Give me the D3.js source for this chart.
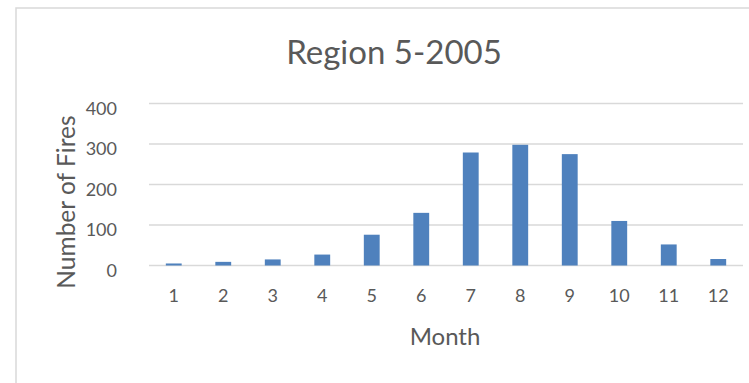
<!DOCTYPE html>
<meta charset="utf-8">
<style>
body { margin: 0; background: #fff; }
text { font-family: Lato, "Open Sans", sans-serif; fill: #595959; }
.grid line { stroke: #d9d9d9; stroke-width: 1.5px; }
.bar { fill: #4f81bd; }
</style>
<svg width="749" height="383"></svg>
<script src="https://cdn.jsdelivr.net/npm/d3@7/dist/d3.min.js"></script>
<script>

var months = ["1", "2", "3", "4", "5", "6", "7", "8", "9", "10", "11", "12"];
var fires = [5, 9, 15, 27, 76, 130, 279, 298, 275, 110, 52, 16];
var yTicks = [0, 100, 200, 300, 400];

var svg = d3.select("svg"),
    margin = {top: 103.5, right: 6, bottom: 117.5, left: 149},
    width = svg.attr("width") - margin.left - margin.right,
    height = svg.attr("height") - margin.top - margin.bottom;

// chart border (right/bottom edges run off the picture)
svg.append("rect")
    .attr("x", 16).attr("y", 8)
    .attr("width", 760).attr("height", 400)
    .attr("fill", "none")
    .attr("stroke", "#d9d9d9")
    .attr("stroke-width", 1.5);

var g = svg.append("g").attr("transform", "translate(" + margin.left + "," + margin.top + ")");

var x = d3.scaleBand().domain(months).range([0, width]).paddingInner(0.68).paddingOuter(0.34),
    y = d3.scaleLinear().domain([0, 400]).range([height, 0]);

g.append("g")
    .attr("class", "grid")
    .selectAll("line")
    .data(yTicks)
    .enter().append("line")
      .attr("x1", 0).attr("x2", width)
      .attr("y1", function(d) { return y(d); })
      .attr("y2", function(d) { return y(d); });

var yAxis = g.append("g")
    .call(d3.axisLeft(y).tickValues(yTicks).tickSize(0).tickPadding(32));
yAxis.select(".domain").remove();
yAxis.selectAll("text")
    .attr("dy", "0.6em")
    .style("font-size", "18px")
    .style("fill", "#595959")
    .style("font-family", null);

var xAxis = g.append("g")
    .attr("transform", "translate(0," + height + ")")
    .call(d3.axisBottom(x).tickSize(0).tickPadding(24));
xAxis.select(".domain").remove();
xAxis.selectAll("text")
    .style("font-size", "18px")
    .style("fill", "#595959")
    .style("font-family", null);

g.selectAll(".bar")
    .data(fires)
    .enter().append("rect")
      .attr("class", "bar")
      .attr("x", function(d, i) { return x(months[i]); })
      .attr("width", x.bandwidth())
      .attr("y", function(d) { return y(d); })
      .attr("height", function(d) { return height - y(d); });

svg.append("text")
    .attr("x", 394).attr("y", 64)
    .attr("text-anchor", "middle")
    .style("font-size", "33px")
    .text("Region 5-2005");

svg.append("text")
    .attr("x", 445).attr("y", 345)
    .attr("text-anchor", "middle")
    .style("font-size", "24px")
    .text("Month");

svg.append("text")
    .attr("transform", "translate(75,202) rotate(-90)")
    .attr("text-anchor", "middle")
    .style("font-size", "24.5px")
    .text("Number of Fires");

</script>
